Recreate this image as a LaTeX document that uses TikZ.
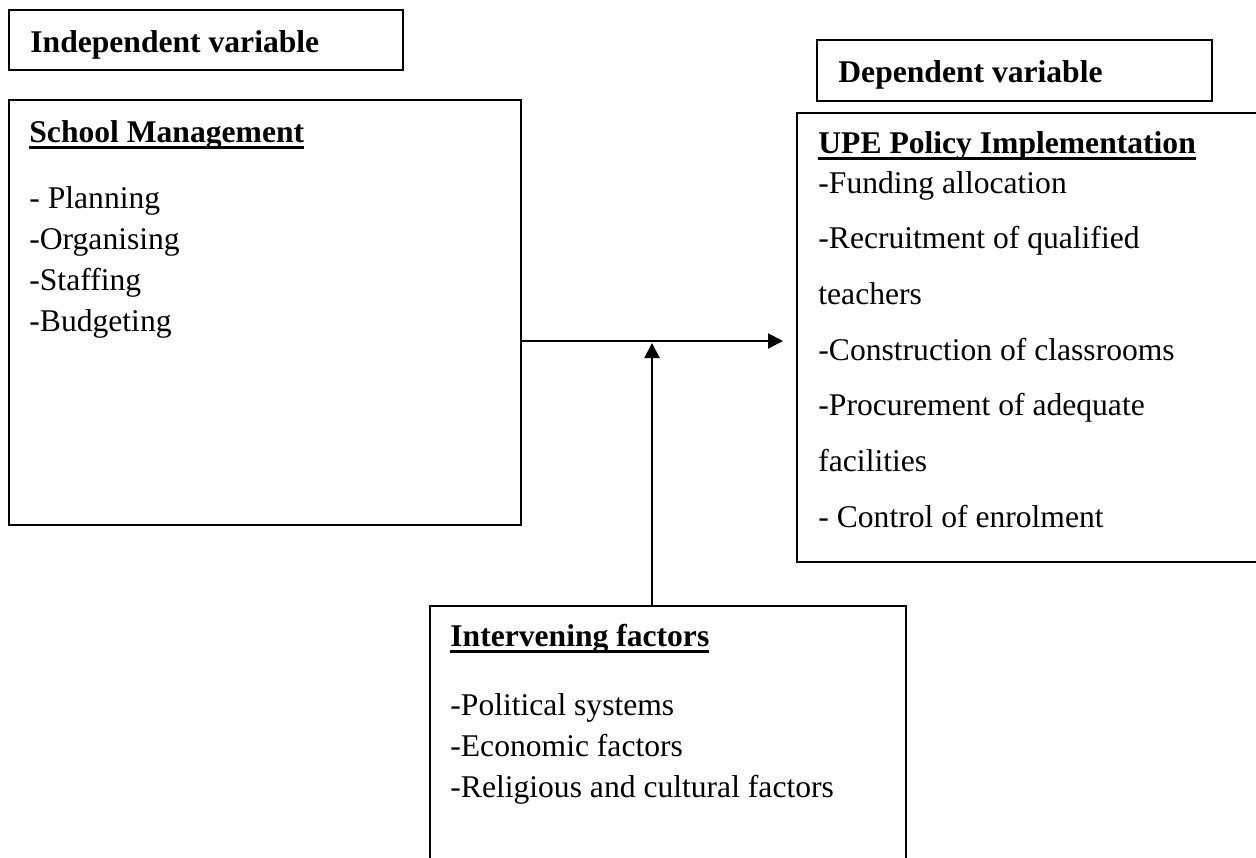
\documentclass[tikz,border=0pt]{standalone}
\usepackage{fontspec}
\setmainfont{Liberation Serif}
\usetikzlibrary{arrows.meta}
\newlength\ulwidth
\newcommand\hul[1]{\settowidth{\ulwidth}{#1}\rlap{\rule[-3.4pt]{\ulwidth}{1.6pt}}#1}
\tikzset{
  box/.style={draw, line width=1pt, inner sep=0pt},
  txt/.style={anchor=base west, inner sep=0pt, font=\fontsize{15.8pt}{19pt}\selectfont},
  arr/.style={line width=1pt, -{Triangle[length=7.5pt, width=7.5pt]}}
}
\begin{document}
\begin{tikzpicture}[x=0.5pt, y=-0.5pt]
\useasboundingbox (0,0) rectangle (1256,857);
% boxes
\node[box, minimum width=197pt, minimum height=30pt] (ivbox) at (206,40) {};
\node[box, minimum width=197.5pt, minimum height=30.5pt] (dvbox) at (1014.5,70.5) {};
\node[box, minimum width=256pt, minimum height=212.5pt] (sm) at (265,312.5) {};
\node[box, minimum width=236.5pt, minimum height=224.5pt] (upe) at (1033.5,337.5) {};
\node[box, minimum width=238pt, minimum height=132pt] (itv) at (668,738) {};
% titles
\node[txt] (ivt) at (30,52) {\textbf{Independent variable}};
\node[txt] (dvt) at (838,82) {\textbf{Dependent variable}};
% school management
\node[txt] (smh) at (29,142) {\textbf{\hul{School Management}}};
\node[txt] (sm1) at (29,208) {- Planning};
\node[txt] (sm2) at (29,249) {-Organising};
\node[txt] (sm3) at (29,290) {-Staffing};
\node[txt] (sm4) at (29,331) {-Budgeting};
% UPE
\node[txt] (upeh) at (818,153) {\textbf{\hul{UPE Policy Implementation}}};
\node[txt] (upe1) at (818,193) {-Funding allocation};
\node[txt] (upe2) at (818,248) {-Recruitment of qualified};
\node[txt] (upe3) at (818,304) {teachers};
\node[txt] (upe4) at (818,360) {-Construction of classrooms};
\node[txt] (upe5) at (818,415) {-Procurement of adequate};
\node[txt] (upe6) at (818,471) {facilities};
\node[txt] (upe7) at (818,527) {- Control of enrolment};
% intervening
\node[txt] (itvh) at (450,646) {\textbf{\hul{Intervening factors}}};
\node[txt] (itv1) at (450,715) {-Political systems};
\node[txt] (itv2) at (450,756) {-Economic factors};
\node[txt] (itv3) at (450,797) {-Religious and cultural factors};
% connectors
\coordinate (tipA) at (783,341);
\coordinate (tipB) at (652,343);
\draw[arr] (sm.east |- tipA) -- (tipA);
\draw[arr] (itv.north -| tipB) -- (tipB);
\end{tikzpicture}
\end{document}
